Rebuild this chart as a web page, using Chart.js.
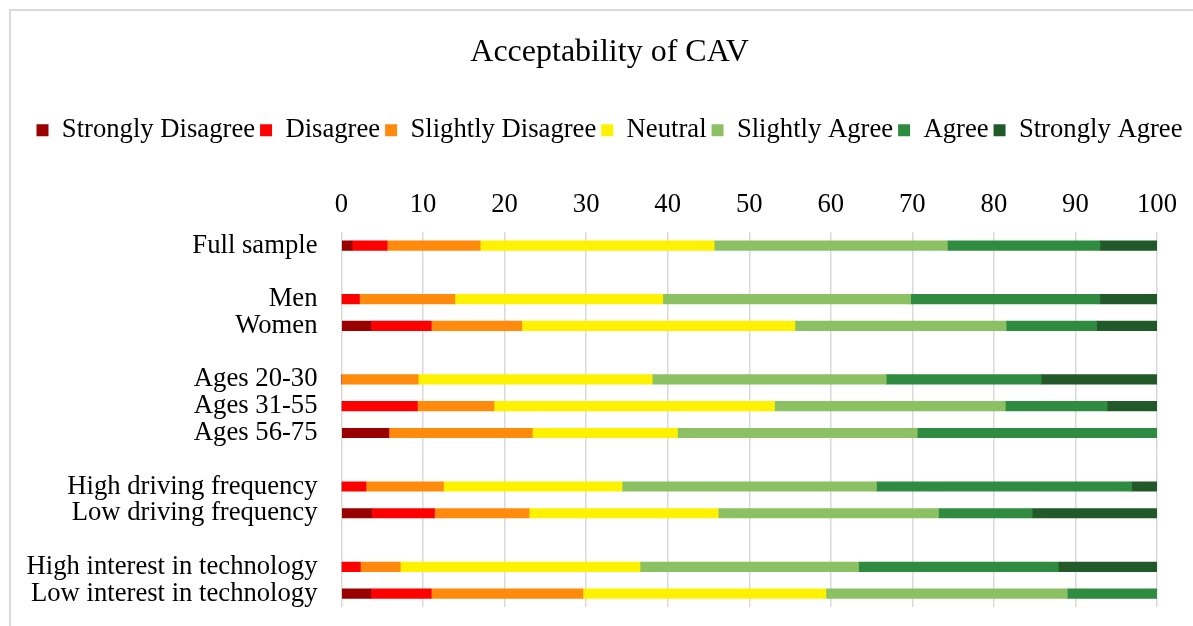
<!DOCTYPE html>
<html>
<head>
<meta charset="utf-8">
<script src="https://cdn.jsdelivr.net/npm/chart.js@4/dist/chart.umd.min.js"></script>
<style>
  html, body { margin: 0; padding: 0; background: #fff; overflow: hidden; }
  #wrap { position: relative; width: 1193px; height: 626px; }
  #frame { position: absolute; left: 9px; top: 9px; width: 1300px; height: 700px; border: 2px solid #d9d9d9; box-sizing: border-box; pointer-events: none; }
  canvas { position: absolute; left: 0; top: 0; }
</style>
</head>
<body>
<div id="wrap">
  <canvas id="c" width="1193" height="626"></canvas>
  <div id="frame"></div>
</div>
<script>
const categories = [
  "Full sample", "",
  "Men", "Women", "",
  "Ages 20-30", "Ages 31-55", "Ages 56-75", "",
  "High driving frequency", "Low driving frequency", "",
  "High interest in technology", "Low interest in technology"
];
const seriesNames = ["Strongly Disagree", "Disagree", "Slightly Disagree", "Neutral", "Slightly Agree", "Agree", "Strongly Agree"];
const seriesColors = ["#990000", "#FF0000", "#FF8A0C", "#FFF200", "#8BC163", "#2E8B40", "#215A28"];

const stronglyDisagree = [1.3, null, 0,   3.6, null, 0,    0,    5.8,  null, 0,    3.7,  null, 0,    3.6];
const disagree         = [4.3, null, 2.2, 7.4, null, 0,    9.3,  0,    null, 3.0,  7.7,  null, 2.3,  7.4];
const slightlyDisagree = [11.4, null, 11.7, 11.1, null, 9.4, 9.4, 17.6, null, 9.5, 11.6, null, 4.9, 18.6];
const neutral          = [28.7, null, 25.5, 33.5, null, 28.7, 34.4, 17.8, null, 21.9, 23.2, null, 29.4, 29.8];
const slightlyAgree    = [28.6, null, 30.4, 25.9, null, 28.7, 28.3, 29.4, null, 31.2, 27.0, null, 26.8, 29.6];
const agree            = [18.7, null, 23.2, 11.1, null, 19.0, 12.5, 29.4, null, 31.3, 11.5, null, 24.5, 11.0];
const stronglyAgree    = [7.0, null, 7.0, 7.4, null, 14.2, 6.1, 0, null, 3.1, 15.3, null, 12.1, 0];

const seriesValues = [stronglyDisagree, disagree, slightlyDisagree, neutral, slightlyAgree, agree, stronglyAgree];
const xTicks = [0, 10, 20, 30, 40, 50, 60, 70, 80, 90, 100];

const FONT = "'Liberation Serif', 'Times New Roman', serif";
const TXT = 26.67;

new Chart(document.getElementById('c'), {
  type: 'bar',
  data: {
    labels: categories,
    datasets: seriesNames.map((name, i) => ({
      label: name,
      data: seriesValues[i],
      backgroundColor: seriesColors[i],
      borderWidth: 0,
      barThickness: 9.5
    }))
  },
  options: {
    indexAxis: 'y',
    responsive: false,
    animation: false,
    devicePixelRatio: 1,
    layout: { padding: { left: 26, right: 0, top: 10, bottom: 19 } },
    plugins: {
      title: {
        display: true,
        text: 'Acceptability of CAV',
        color: '#000',
        font: { family: FONT, size: 32, weight: 'normal', lineHeight: 1.2 },
        padding: { top: 23.5, bottom: 40 }
      },
      legend: {
        display: true,
        position: 'top',
        align: 'center',
        labels: {
          color: '#000',
          font: { family: FONT, size: TXT },
          boxWidth: 12,
          boxHeight: 12,
          padding: 5
        }
      },
      tooltip: { enabled: false }
    },
    scales: {
      x: {
        position: 'top',
        stacked: true,
        min: 0,
        max: 100,
        afterBuildTicks: (s) => { s.ticks = xTicks.map(v => ({ value: v })); },
        afterFit: (s) => { s.height = 78.6; s.paddingRight = 36; s.paddingLeft = 0; },
        ticks: {
          color: '#000',
          font: { family: FONT, size: TXT, lineHeight: 1.2 },
          padding: 11,
          maxRotation: 0
        },
        grid: { color: '#d9d9d9', lineWidth: 1.5, drawTicks: false },
        border: { display: false }
      },
      y: {
        stacked: true,
        afterFit: (s) => { s.width = 315.5; },
        ticks: {
          color: '#000',
          font: { family: FONT, size: TXT },
          padding: 0,
          autoSkip: false
        },
        grid: { display: true, drawOnChartArea: false, drawTicks: true, tickLength: 24, color: 'rgba(0,0,0,0)' },
        border: { display: false }
      }
    }
  }
});
</script>
</body>
</html>
